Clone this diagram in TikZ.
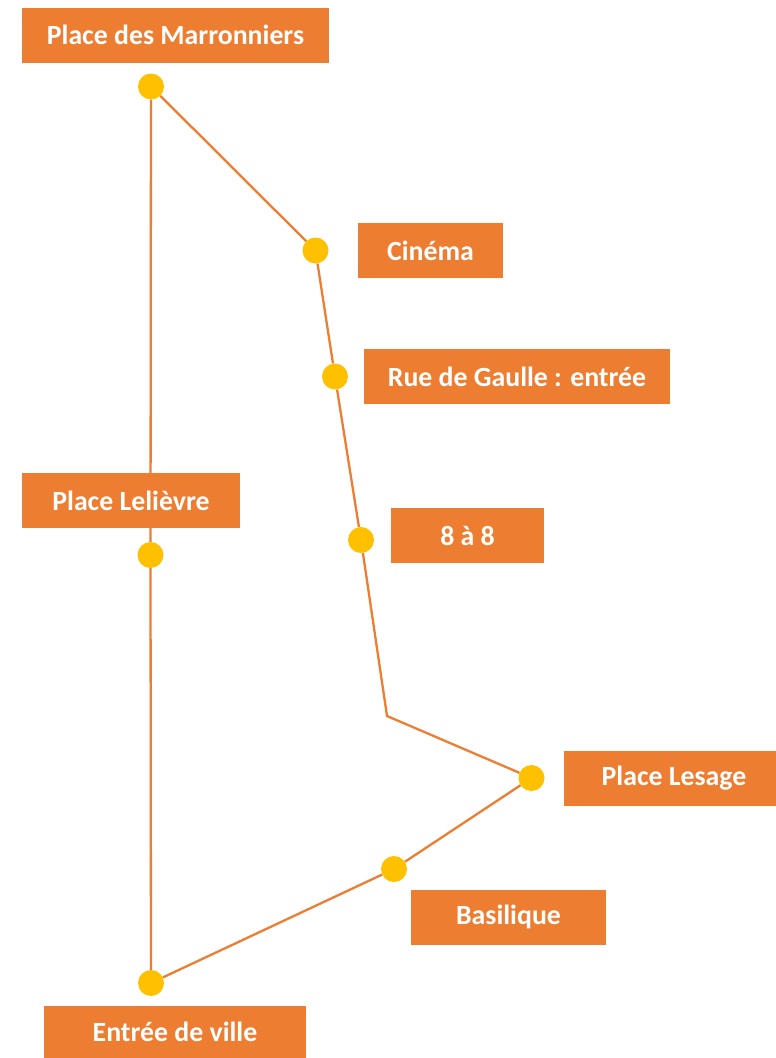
\documentclass[tikz,border=0pt]{standalone}
\usepackage{fontspec}
\setmainfont{Carlito}
\usetikzlibrary{positioning}
\definecolor{accent}{HTML}{ED7D31}
\definecolor{gold}{HTML}{FFC000}

\begin{document}
\begin{tikzpicture}[x=1pt,y=-1pt,on grid,
    stop/.style={circle,fill=gold,minimum size=26pt,inner sep=0pt},
    tag/.style={fill=accent,text=white,font=\fontsize{27.8}{32}\selectfont\bfseries,
      minimum height=55pt,inner sep=0pt},
    road/.style={draw=accent,line width=2.3pt}]
    \useasboundingbox (0,0) rectangle (776,1058);
    \node[stop] (0) at (151,86.5) {};
    \node[stop] (1) at (315.5,250.5) {};
    \node[stop] (2) at (335,376.5) {};
    \node[stop] (3) at (361,540) {};
    \node[stop] (4) at (150.5,555) {};
    \node[stop] (5) at (531.5,778) {};
    \node[stop] (6) at (394,869) {};
    \node[stop] (7) at (151,983) {};
    \coordinate (k) at (387,716);
    \draw[road] (0) -- (1) -- (2) -- (3) -- (k) -- (5) -- (6) -- (7) -- (4) -- (0);
    \node[tag, minimum width=307pt] (m) at (175.5,35) {Place des Marronniers};
    \node[tag, minimum width=145pt, right=115pt of 1] (c) {Cinéma};
    \node[tag, minimum width=306pt, right=182pt of 2] (g) {Rue de Gaulle : entrée};
    \node[tag, minimum width=218pt] (l) at (131,500.5) {Place Lelièvre};
    \node[tag, minimum width=153pt] (h) at (467.5,535.5) {8 à 8};
    \node[tag, minimum width=212pt, right=138.5pt of 5] (s) {\hspace*{8pt}Place Lesage};
    \node[tag, minimum width=195pt] (b) at (508.5,917) {Basilique};
    \node[tag, minimum width=262pt, minimum height=53pt] (e) at (175,1032) {Entrée de ville};
\end{tikzpicture}
\end{document}
